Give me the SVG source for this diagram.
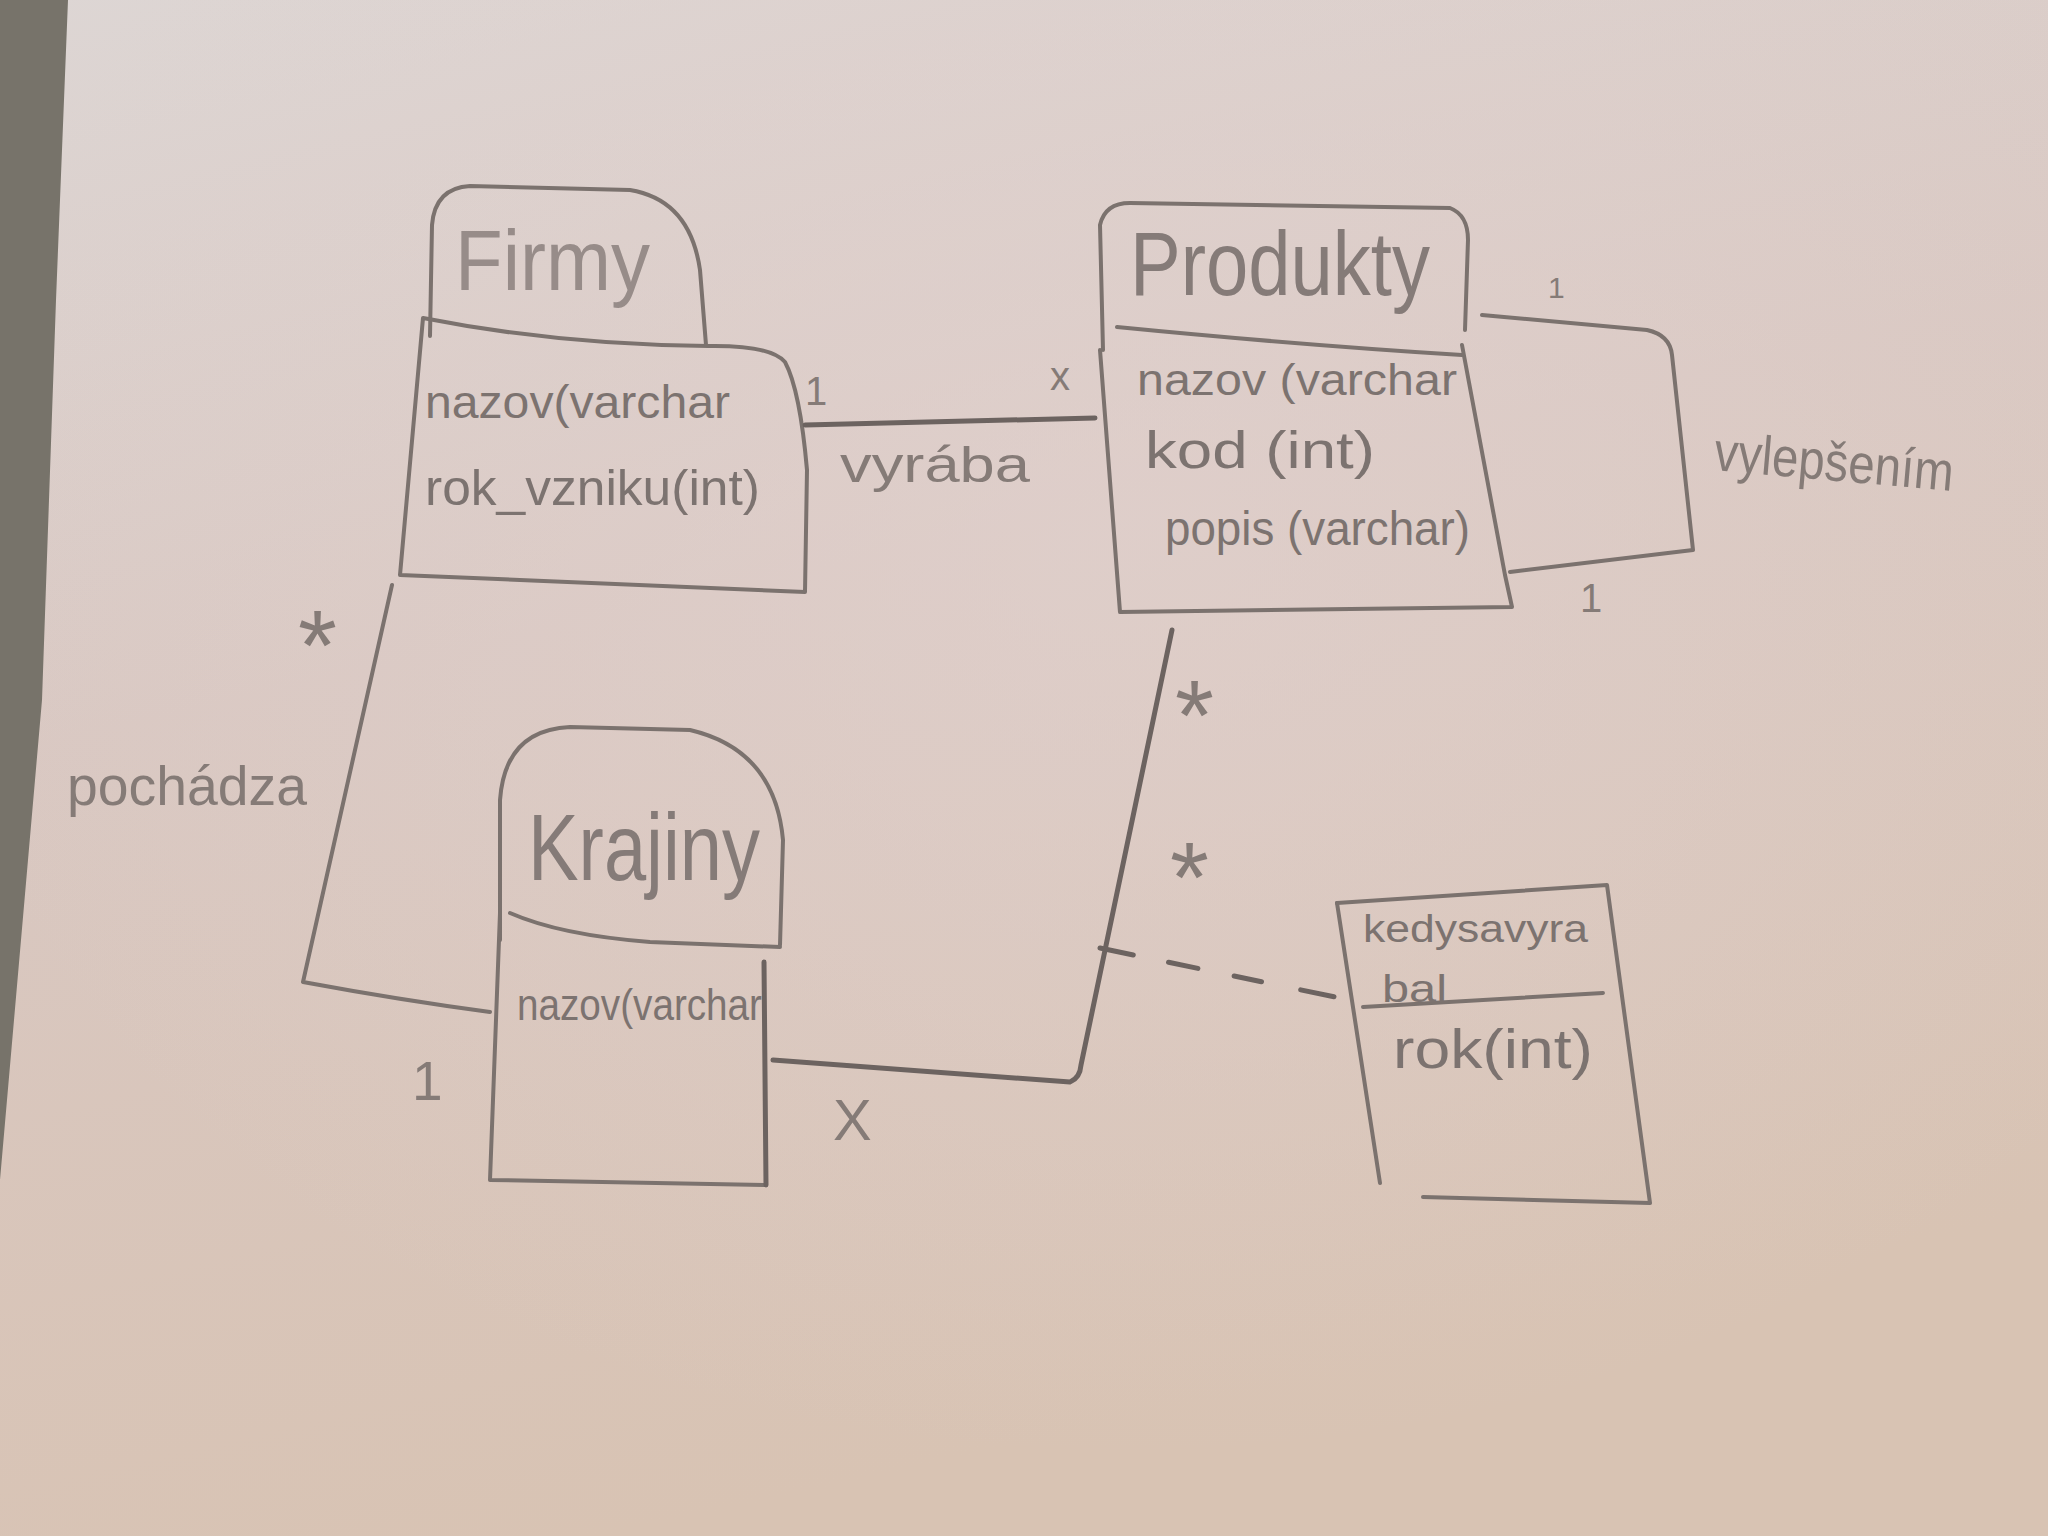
<svg xmlns="http://www.w3.org/2000/svg" width="2048" height="1536" viewBox="0 0 2048 1536">
  <defs>
    <linearGradient id="paper" x1="0" y1="0" x2="0.3" y2="1">
      <stop offset="0" stop-color="#ddd6d4"/>
      <stop offset="0.45" stop-color="#d9c8c2"/>
      <stop offset="1" stop-color="#d8c3b3"/>
    </linearGradient>
    <radialGradient id="glow" cx="0.55" cy="0.35" r="0.6">
      <stop offset="0" stop-color="#e2d2cf" stop-opacity="0.6"/>
      <stop offset="1" stop-color="#e2d2cf" stop-opacity="0"/>
    </radialGradient>
    <style>
      .ln { fill: none; stroke: #7b726e; stroke-width: 4; stroke-linecap: round; stroke-linejoin: round; }
      .dk { stroke: #6c6360; stroke-width: 5; }
      .t { font-family: "Liberation Sans", "DejaVu Sans", sans-serif; fill: #7c7370; }
      .title { fill: #978c89; }
      .ttl2 { fill: #857b78; }
      .lbl { font-family: "Liberation Sans", "DejaVu Sans", sans-serif; fill: #857b77; }
    </style>
  </defs>

  <rect x="0" y="0" width="2048" height="1536" fill="url(#paper)"/>
  <rect x="0" y="0" width="2048" height="1536" fill="url(#glow)"/>
  <polygon points="0,0 68,0 56,300 42,700 0,1180" fill="#77736a"/>

  <g id="firmy">
    <path class="ln" d="M430,336 L432,225 Q435,188 470,186 L630,190 Q690,200 700,270 L706,345"/>
    <path class="ln" d="M423,318 Q560,345 708,346 Q770,345 785,362 Q800,390 807,470 L805,592 L400,575 Z"/>
    <text class="t title" x="455" y="290" font-size="85" textLength="195" lengthAdjust="spacingAndGlyphs">Firmy</text>
    <text class="t" x="425" y="418" font-size="46" textLength="305" lengthAdjust="spacingAndGlyphs">nazov(varchar</text>
    <text class="t" x="425" y="505" font-size="50" textLength="335" lengthAdjust="spacingAndGlyphs">rok_vzniku(int)</text>
  </g>

  <g id="produkty">
    <path class="ln" d="M1103,350 L1100,225 Q1105,203 1130,203 L1450,208 Q1468,215 1468,240 L1465,330"/>
    <path class="ln" d="M1117,327 Q1300,345 1462,355"/>
    <path class="ln" d="M1100,350 L1120,612 L1512,607 L1505,575 L1462,345"/>
    <text class="t ttl2" x="1130" y="295" font-size="90" textLength="300" lengthAdjust="spacingAndGlyphs">Produkty</text>
    <text class="t" x="1137" y="395" font-size="44" textLength="320" lengthAdjust="spacingAndGlyphs">nazov (varchar</text>
    <text class="t" x="1145" y="468" font-size="52" textLength="230" lengthAdjust="spacingAndGlyphs">kod (int)</text>
    <text class="t" x="1165" y="545" font-size="48" textLength="305" lengthAdjust="spacingAndGlyphs">popis (varchar)</text>
  </g>

  <g id="krajiny">
    <path class="ln" d="M500,940 L500,800 Q505,730 570,727 L690,730 Q775,750 783,840 L780,945"/>
    <path class="ln" d="M510,913 Q560,935 650,942 L780,947"/>
    <path class="ln" d="M500,913 L490,1180 L765,1185"/>
    <path class="ln dk" d="M764,962 L766,1185"/>
    <text class="t ttl2" x="528" y="880" font-size="95" textLength="232" lengthAdjust="spacingAndGlyphs">Krajiny</text>
    <text class="t" x="517" y="1020" font-size="44" textLength="245" lengthAdjust="spacingAndGlyphs">nazov(varchar</text>
  </g>

  <g id="kedysavyrabal">
    <path class="ln" d="M1337,903 L1607,885 L1650,1203 L1423,1197"/>
    <path class="ln" d="M1337,903 L1380,1183"/>
    <path class="ln" d="M1363,1007 L1603,993"/>
    <text class="t" x="1363" y="942" font-size="38" textLength="225" lengthAdjust="spacingAndGlyphs">kedysavyra</text>
    <text class="t" x="1382" y="1002" font-size="38" textLength="65" lengthAdjust="spacingAndGlyphs">bal</text>
    <text class="t" x="1393" y="1068" font-size="55" textLength="200" lengthAdjust="spacingAndGlyphs">rok(int)</text>
  </g>

  <g id="connectors">
    <path class="ln dk" d="M805,425 L1095,418"/>
    <path class="ln" d="M392,585 L303,982 Q400,1000 490,1012"/>
    <path class="ln dk" d="M773,1060 L1070,1082 Q1080,1078 1081,1065 L1172,630"/>
    <path class="ln dk" d="M1100,948 L1335,997" stroke-dasharray="34 36 30 37 28 40"/>
    <path class="ln" d="M1482,315 L1647,330 Q1670,335 1672,355 L1693,550 L1510,572"/>

    <text class="lbl" x="805" y="405" font-size="40">1</text>
    <text class="lbl" x="1050" y="390" font-size="40">x</text>
    <text class="lbl" x="840" y="482" font-size="50" textLength="190" lengthAdjust="spacingAndGlyphs">vyrába</text>
    <text class="lbl" x="298" y="680" font-size="100">*</text>
    <text class="lbl" x="67" y="805" font-size="55" textLength="240" lengthAdjust="spacingAndGlyphs">pochádza</text>
    <text class="lbl" x="412" y="1100" font-size="55">1</text>
    <text class="lbl" x="833" y="1140" font-size="58">X</text>
    <text class="lbl" x="1175" y="750" font-size="100">*</text>
    <text class="lbl" x="1170" y="912" font-size="100">*</text>
    <text class="lbl" x="1548" y="298" font-size="30">1</text>
    <text class="lbl" x="1580" y="612" font-size="40">1</text>
    <text class="lbl" x="1713" y="470" font-size="55" textLength="240" lengthAdjust="spacingAndGlyphs" transform="rotate(5 1713 470)">vylepšením</text>
  </g>
</svg>
